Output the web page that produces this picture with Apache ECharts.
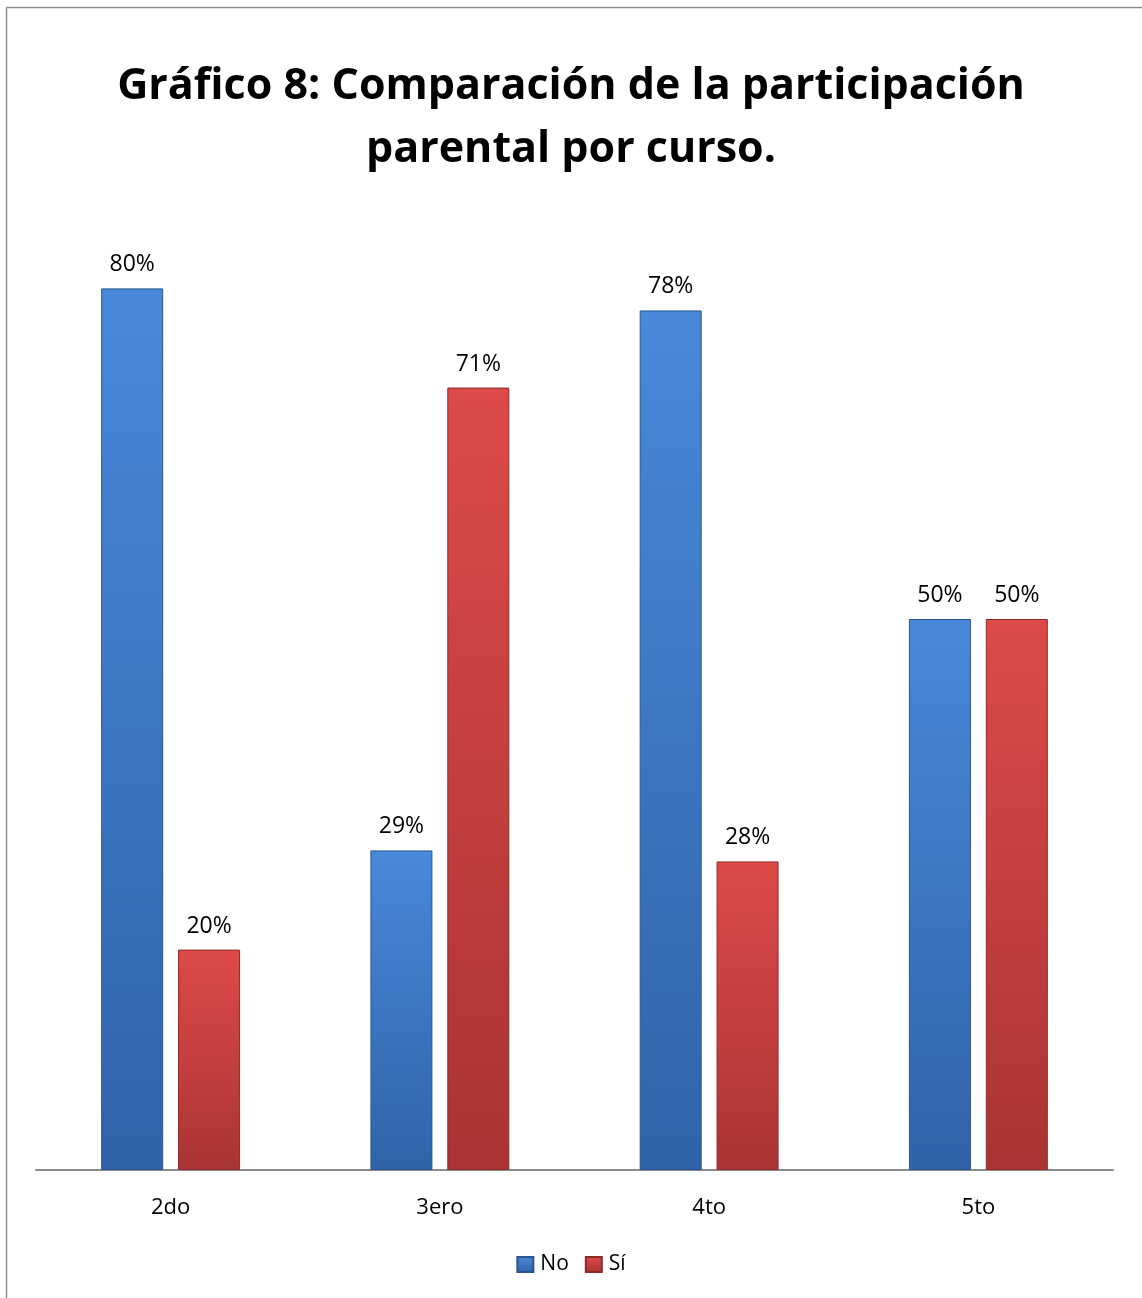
<!DOCTYPE html>
<html><head><meta charset="utf-8">
<script src="https://cdn.jsdelivr.net/npm/echarts@6/dist/echarts.min.js"></script>
<style>html,body{margin:0;padding:0;background:#fff}#c{width:1142px;height:1298px}</style>
</head><body><div id="c"></div>
<script>
var categories = ['2do', '3ero', '4to', '5to'];
var noValues = [0.80, 0.29, 0.78, 0.50];
var siValues = [0.20, 0.71, 0.28, 0.50];
var seriesNames = ['No', 'Sí'];
var titleText = 'Gráfico 8: Comparación de la participación\nparental por curso.';

var font = '"Open Sans", "Noto Sans", sans-serif';
function grad(top, bottom) {
  return new echarts.graphic.LinearGradient(0, 0, 0, 1, [
    {offset: 0, color: top}, {offset: 1, color: bottom}
  ]);
}
var blue = grad('#4889da', '#3063a8');
var red = grad('#dd4a48', '#a93433');
var chart = echarts.init(document.getElementById('c'));
var labelOpt = {
  show: true, position: 'top', distance: 12, color: '#000',
  fontFamily: font, fontSize: 23,
  formatter: function (p) { return Math.round(p.value * 100) + '%'; }
};
chart.setOption({
  animation: false,
  backgroundColor: '#fff',
  graphic: [
    {type: 'line', shape: {x1: 6.5, y1: 7.5, x2: 6.5, y2: 1298}, style: {stroke: '#8c8c8c', lineWidth: 1.5}},
    {type: 'line', shape: {x1: 6, y1: 7.5, x2: 1142, y2: 7.5}, style: {stroke: '#8c8c8c', lineWidth: 1.5}}
  ],
  title: {
    text: titleText, left: 'center', top: 50,
    textStyle: {fontFamily: font, fontWeight: 'bold', fontSize: 43, lineHeight: 63, color: '#000'}
  },
  legend: {
    data: seriesNames, bottom: 18, left: 'center', itemWidth: 16, itemHeight: 15, itemGap: 16,
    icon: 'rect',
    textStyle: {fontFamily: font, fontSize: 21, color: '#000', padding: [0, 0, 0, 2]}
  },
  grid: {left: 36, right: 29, top: 68, bottom: 128, containLabel: false},
  xAxis: {
    type: 'category', data: categories,
    axisLine: {lineStyle: {color: '#8c8c8c', width: 2}},
    axisTick: {show: false},
    axisLabel: {fontFamily: font, fontSize: 22, color: '#000', margin: 27}
  },
  yAxis: {type: 'value', min: 0, max: 1, show: false, splitLine: {show: false}},
  series: [
    {name: seriesNames[0], type: 'bar', data: noValues, barWidth: 62, barGap: '24%',
     itemStyle: {color: blue, borderColor: '#2a5590', borderWidth: 1}, label: labelOpt},
    {name: seriesNames[1], type: 'bar', data: siValues, barWidth: 62,
     itemStyle: {color: red, borderColor: '#8e2a2a', borderWidth: 1}, label: labelOpt}
  ]
});
</script></body></html>
